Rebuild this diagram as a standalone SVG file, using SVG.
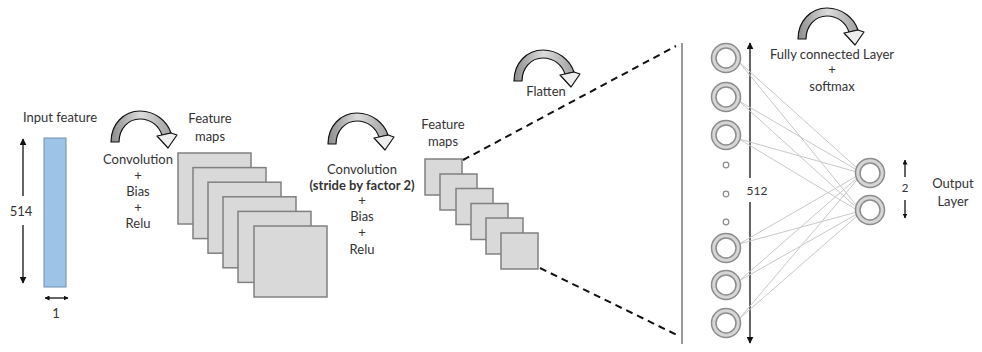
<svg xmlns="http://www.w3.org/2000/svg" width="982" height="352" viewBox="0 0 982 352">
<style>
text{font-family:Lato,"Open Sans","Liberation Sans",sans-serif;font-size:13px;fill:#333;text-anchor:middle}
.b{font-weight:bold}
.fm{fill:#d9d9d9;stroke:#808080;stroke-width:1.5}
.dim{stroke:#111;stroke-width:1.3;fill:none}
.dash{stroke:#111;stroke-width:2;stroke-dasharray:7,5;fill:none}
.fc{stroke:#c8c8c8;stroke-width:1;fill:none}
.ring{fill:#d6d6d6;stroke:#8c8c8c;stroke-width:1.5}
.hole{fill:#fff;stroke:#8c8c8c;stroke-width:1.5}
.dot{fill:#fff;stroke:#8c8c8c;stroke-width:1.2}
</style>
<defs>
<marker id="ah" viewBox="0 0 10 10" refX="9" refY="5" markerWidth="7" markerHeight="7" orient="auto-start-reverse" markerUnits="userSpaceOnUse"><path d="M0,0 L10,5 L0,10 Z" fill="#111"/></marker>
<marker id="ahs" viewBox="0 0 10 10" refX="9" refY="5" markerWidth="5" markerHeight="5" orient="auto-start-reverse" markerUnits="userSpaceOnUse"><path d="M0,0 L10,5 L0,10 Z" fill="#111"/></marker>
<linearGradient id="cg" x1="0" y1="0" x2="1" y2="0"><stop offset="0" stop-color="#8c8c8c"/><stop offset="0.5" stop-color="#dcdcdc"/><stop offset="1" stop-color="#a0a0a0"/></linearGradient>
<g id="curl">
<path d="M0,31 C0,13 13,0 29,0 C44,0 56,10 60,22 L51,24 C48,15 40,8 29,8 C17,8 8,18 8,31 Z" fill="url(#cg)" stroke="#111" stroke-width="1.2" stroke-linejoin="round"/>
<path d="M60,22 L66,24 L57,37 L46,25 L51,24 Z" fill="#eeeeee" stroke="#111" stroke-width="1.2" stroke-linejoin="round"/>
</g>
</defs>

<g id="input-feature">
<text x="60" y="122">Input feature</text>
<rect x="44" y="138" width="22" height="149" fill="#9dc3e6" stroke="#6f8fb0" stroke-width="1"/>
<text x="21" y="216">514</text>
<text x="56" y="318">1</text>
</g>

<g id="conv1">
<use href="#curl" x="111" y="111"/>
<text x="138" y="164">Convolution</text>
<text x="138" y="180">+</text>
<text x="138" y="196">Bias</text>
<text x="138" y="212">+</text>
<text x="138" y="228">Relu</text>
</g>

<g id="feature-maps-1">
<text x="210" y="123">Feature</text>
<text x="210" y="141">maps</text>
<rect class="fm" x="178" y="153" width="73" height="71"/>
<rect class="fm" x="193" y="167.6" width="73" height="71"/>
<rect class="fm" x="208" y="182.2" width="73" height="71"/>
<rect class="fm" x="223" y="196.8" width="73" height="71"/>
<rect class="fm" x="238" y="211.4" width="73" height="71"/>
<rect class="fm" x="254" y="226" width="73" height="71"/>
</g>

<g id="conv2">
<use href="#curl" x="328" y="113"/>
<text x="362" y="174">Convolution</text>
<text class="b" x="362" y="190">(stride by factor 2)</text>
<text x="362" y="205">+</text>
<text x="362" y="221">Bias</text>
<text x="362" y="237">+</text>
<text x="362" y="254">Relu</text>
</g>

<g id="feature-maps-2">
<text x="443" y="129">Feature</text>
<text x="443" y="146">maps</text>
<rect class="fm" x="425" y="159" width="37" height="36"/>
<rect class="fm" x="440" y="174" width="37" height="36"/>
<rect class="fm" x="456" y="188.5" width="37" height="36"/>
<rect class="fm" x="471" y="203.5" width="37" height="36"/>
<rect class="fm" x="486" y="218" width="37" height="36"/>
<rect class="fm" x="501" y="233" width="37" height="36"/>
</g>

<g id="flatten">
<use href="#curl" x="514" y="50"/>
<text x="546" y="96">Flatten</text>
</g>

<g id="fc-label">
<use href="#curl" x="798" y="8"/>
<text x="832" y="59">Fully connected Layer</text>
<text x="832" y="74">+</text>
<text x="832" y="91">softmax</text>
</g>

<g id="connectors">
<line class="dim" x1="23" y1="196" x2="23" y2="139" marker-end="url(#ah)"/>
<line class="dim" x1="23" y1="225" x2="23" y2="283" marker-end="url(#ah)"/>
<line class="dim" x1="45" y1="298" x2="68" y2="298" marker-start="url(#ahs)" marker-end="url(#ahs)"/>
<line class="dash" x1="463" y1="160" x2="676" y2="46"/>
<line class="dash" x1="540" y1="268" x2="677" y2="335"/>
<line x1="682" y1="43" x2="682" y2="344" stroke="#777" stroke-width="1.5"/>
<line class="dim" x1="750" y1="178" x2="750" y2="43" marker-end="url(#ah)"/>
<line class="dim" x1="750" y1="202" x2="750" y2="343" marker-end="url(#ah)"/>
<line class="dim" x1="905" y1="177" x2="905" y2="160" marker-end="url(#ahs)"/>
<line class="dim" x1="905" y1="200" x2="905" y2="218" marker-end="url(#ahs)"/>
<g class="fc">
<line x1="739" y1="62" x2="857" y2="168"/><line x1="739" y1="62" x2="857" y2="206"/>
<line x1="739" y1="101" x2="857" y2="170"/><line x1="739" y1="101" x2="857" y2="208"/>
<line x1="739" y1="139" x2="857" y2="172"/><line x1="739" y1="139" x2="857" y2="210"/>
<line x1="739" y1="244" x2="857" y2="176"/><line x1="739" y1="244" x2="857" y2="212"/>
<line x1="739" y1="281" x2="857" y2="178"/><line x1="739" y1="281" x2="857" y2="214"/>
<line x1="739" y1="319" x2="857" y2="180"/><line x1="739" y1="319" x2="857" y2="216"/>
</g>
</g>

<g id="fc-input-layer">
<g id="n1"><circle class="ring" cx="726" cy="58" r="14.5"/><circle class="hole" cx="726" cy="58" r="10"/></g>
<g id="n2"><circle class="ring" cx="726" cy="97" r="14.5"/><circle class="hole" cx="726" cy="97" r="10"/></g>
<g id="n3"><circle class="ring" cx="726" cy="135" r="14.5"/><circle class="hole" cx="726" cy="135" r="10"/></g>
<circle class="dot" cx="726" cy="165" r="2.8"/>
<circle class="dot" cx="726" cy="194" r="2.8"/>
<circle class="dot" cx="726" cy="222" r="2.8"/>
<g id="n4"><circle class="ring" cx="726" cy="248" r="14.5"/><circle class="hole" cx="726" cy="248" r="10"/></g>
<g id="n5"><circle class="ring" cx="726" cy="285" r="14.5"/><circle class="hole" cx="726" cy="285" r="10"/></g>
<g id="n6"><circle class="ring" cx="726" cy="323" r="14.5"/><circle class="hole" cx="726" cy="323" r="10"/></g>
<text x="757" y="195" style="font-size:12px">512</text>
</g>

<g id="output-layer">
<g id="o1"><circle class="ring" cx="870" cy="173" r="14.5"/><circle class="hole" cx="870" cy="173" r="10"/></g>
<g id="o2"><circle class="ring" cx="870" cy="210" r="14.5"/><circle class="hole" cx="870" cy="210" r="10"/></g>
<text x="905" y="192" style="font-size:11.5px">2</text>
<text x="953" y="188">Output</text>
<text x="953" y="206">Layer</text>
</g>
</svg>
